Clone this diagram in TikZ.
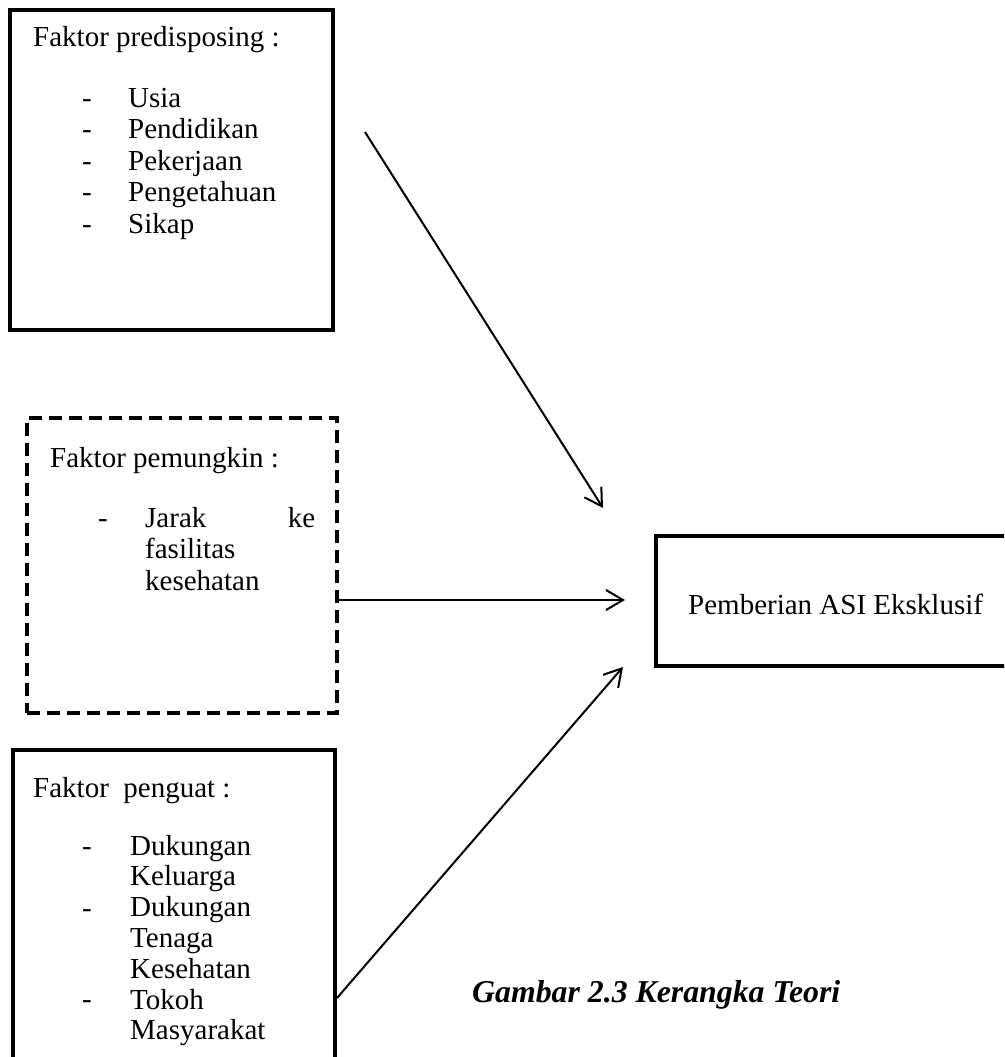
\documentclass[tikz,border=0pt]{standalone}
\usepackage{fontspec}
\setmainfont{Liberation Serif}
\usetikzlibrary{arrows.meta}
\tikzset{
  solidbox/.style={draw, line width=4pt, inner sep=0pt},
  dashbox/.style={draw, line width=3.3pt, inner sep=0pt, dash pattern=on 13pt off 7pt},
  txt/.style={anchor=base west, inner sep=0pt, font=\fontsize{29}{31.5}\selectfont},
  link/.style={line width=2pt, -{Straight Barb[length=17pt,width=20pt,line width=2pt]}}
}
\begin{document}
\begin{tikzpicture}[x=1pt, y=-1pt]
\useasboundingbox (0,0) rectangle (1004,1057);
\clip (0,0) rectangle (1004,1057);
% boxes
\node[solidbox, minimum width=323pt, minimum height=320pt] (predisposing) at (171.5,170) {};
\node[dashbox, minimum width=310pt, minimum height=295pt] (pemungkin) at (182,565.5) {};
\node[solidbox, minimum width=322pt, minimum height=340pt] (penguat) at (174,920) {};
\node[solidbox, minimum width=374pt, minimum height=130pt] (asi) at (843,601) {};
% predisposing
\node[txt] (t1) at (33,47) {Faktor predisposing :};
\foreach \item [count=\i] in {Usia, Pendidikan, Pekerjaan, Pengetahuan, Sikap} {
  \node[txt] (d1\i) at (82,107+31.5*\i-31.5) {-};
  \node[txt] (p\i) at (128,107+31.5*\i-31.5) {\item};
}
% pemungkin
\node[txt] (t2) at (50,467) {Faktor pemungkin :};
\node[txt] (d2) at (98,527) {-};
\node[txt, text width=170pt] (m1) at (145,527) {Jarak\hfill ke};
\node[txt] (m2) at (145,558.5) {fasilitas};
\node[txt] (m3) at (145,590) {kesehatan};
% penguat
\node[txt] (t3) at (33,797) {Faktor\ \ penguat :};
\foreach \y in {855,917,1008} {
  \node[txt] at (82,\y) {-};
}
\foreach \item [count=\i] in {Dukungan, Keluarga, Dukungan, Tenaga, Kesehatan, Tokoh, Masyarakat} {
  \node[txt] (g\i) at (130,855+30.8*\i-30.8) {\item};
}
% outcome
\node[txt] (a1) at (688,614) {Pemberian ASI Eksklusif};
\node[txt, font=\fontsize{31.8}{34}\selectfont\bfseries\itshape] (cap) at (472,1002) {Gambar 2.3 Kerangka Teori};
% arrows
\coordinate (s1) at (365,132);
\coordinate (e1) at (603,508);
\coordinate (s2) at (337,600);
\coordinate (e2) at (625,600);
\coordinate (s3) at (337,998);
\coordinate (e3) at (623,667);
\draw[link] (s1) -- (e1);
\draw[link] (s2) -- (e2);
\draw[link] (s3) -- (e3);
\end{tikzpicture}
\end{document}
